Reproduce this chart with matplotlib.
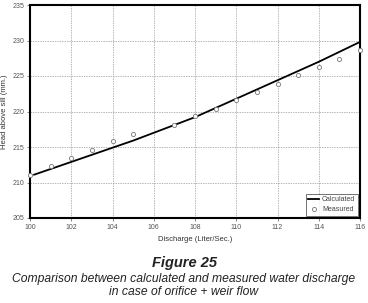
import matplotlib.pyplot as plt

plt.rcParams["font.family"] = ["Liberation Sans", "DejaVu Sans"]

# calculated curve
calc_q = [100.2, 101, 102, 103, 104, 105, 106, 107, 108, 109, 110, 111, 112, 113, 114, 115, 116]
calc_h = [211.1, 211.9, 212.9, 213.9, 214.9, 215.9, 217.0, 218.1, 219.2, 220.5, 221.8, 223.1,
          224.4, 225.7, 227.0, 228.4, 229.8]

# measured points
meas_q = [100, 101, 102, 103, 104, 105, 107, 108, 109, 110, 111, 112, 113, 114, 115, 116]
meas_h = [211.1, 212.3, 213.4, 214.6, 215.8, 216.9, 218.1, 219.3, 220.4, 221.6, 222.8, 223.9,
          225.1, 226.2, 227.4, 228.6]

xticks = list(range(100, 117, 2))
yticks = list(range(205, 236, 5))

fig = plt.figure(figsize=(3.68, 3.03), dpi=100)
ax = fig.add_axes([30 / 368, 1 - 218 / 303, 330 / 368, 213 / 303])

ax.plot(calc_q, calc_h, color="black", lw=1.3, label="Calculated", zorder=3)
ax.plot(meas_q, meas_h, ls="none", marker="o", ms=3, mfc="white", mec="#777777", mew=0.6,
        label="Measured", zorder=4, clip_on=False)

ax.set_xlim(100, 116)
ax.set_ylim(205, 235)
ax.set_xticks(xticks)
ax.set_yticks(yticks)
ax.grid(True, ls=(0, (2, 1.5)), color="#999999", lw=0.5)
ax.tick_params(labelsize=5, colors="#555555", length=2, width=0.5, pad=2)
for s in ax.spines.values():
    s.set_linewidth(1.5)
    s.set_color("black")

ax.set_xlabel("Discharge (Liter/Sec.)", fontsize=5.5, color="#333333", labelpad=4)
ax.set_ylabel("Head above sill (mm.)", fontsize=5.5, color="#333333", labelpad=3)

leg = ax.legend(loc="lower right", fontsize=5, frameon=True, fancybox=False,
                borderaxespad=0.35, handlelength=1.6, handletextpad=0.4,
                borderpad=0.35, labelspacing=0.45, labelcolor="#444444")
leg.get_frame().set_edgecolor("#333333")
leg.get_frame().set_linewidth(0.6)

fig.text(0.5, 1 - 263 / 303, "Figure 25", ha="center", va="center", fontsize=10.5,
         style="italic", weight="bold", color="#222222")
fig.text(0.5, 1 - 279 / 303, "Comparison between calculated and measured water discharge",
         ha="center", va="center", fontsize=8.7, style="italic", color="#222222")
fig.text(0.5, 1 - 292 / 303, "in case of orifice + weir flow",
         ha="center", va="center", fontsize=8.7, style="italic", color="#222222")

fig.savefig("out.png", dpi=100)
